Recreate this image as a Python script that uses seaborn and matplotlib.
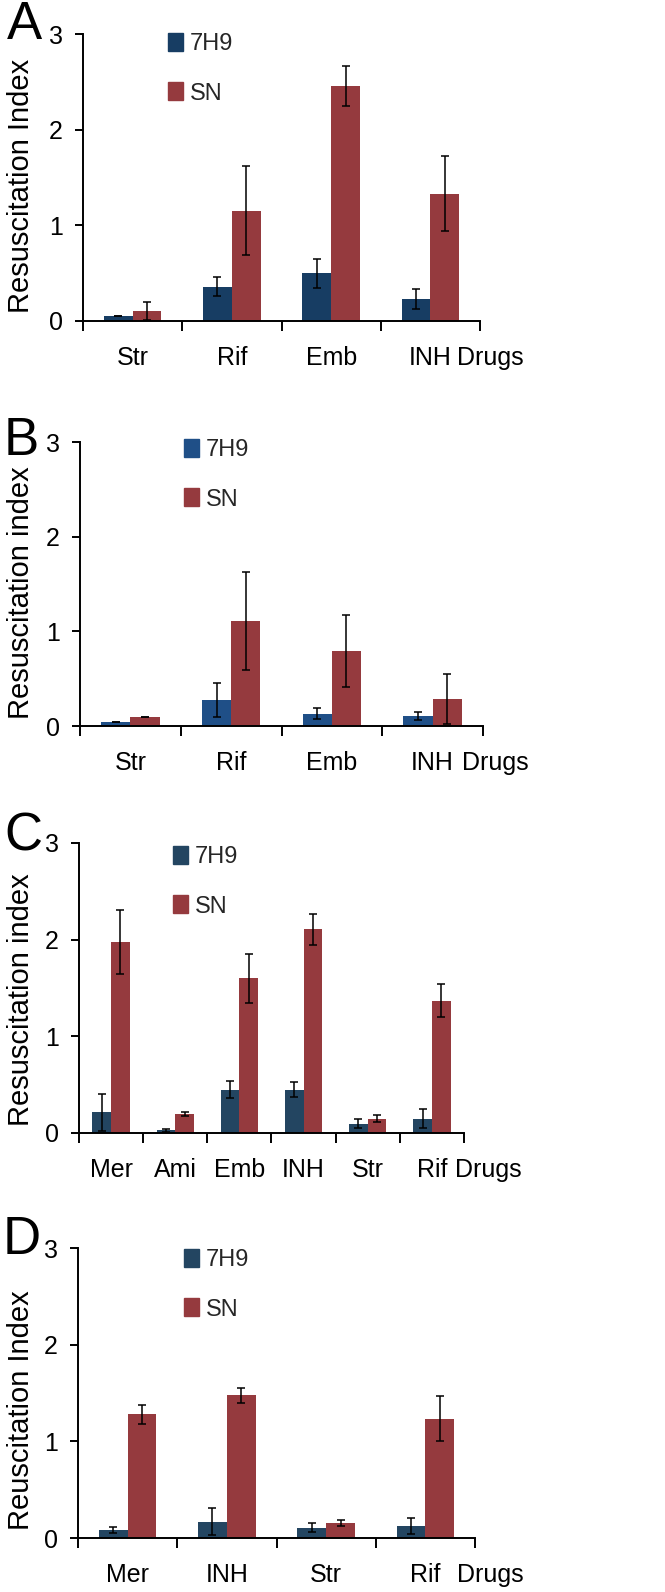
import numpy as np
import pandas as pd
import matplotlib
matplotlib.use("Agg")
import matplotlib.pyplot as plt
import matplotlib.patches as mpatches
import seaborn as sns

# ---------------- data ----------------
a_cats = ["Str", "Rif", "Emb", "INH"]
a_7h9 = [0.05, 0.36, 0.50, 0.23]
a_7h9_err = [0.0, 0.10, 0.15, 0.10]
a_sn = [0.105, 1.155, 2.455, 1.33]
a_sn_err = [0.095, 0.46, 0.21, 0.39]

b_cats = ["Str", "Rif", "Emb", "INH"]
b_7h9 = [0.045, 0.27, 0.13, 0.11]
b_7h9_err = [0.0, 0.18, 0.06, 0.042]
b_sn = [0.10, 1.11, 0.795, 0.285]
b_sn_err = [0.0, 0.52, 0.38, 0.26]

c_cats = ["Mer", "Ami", "Emb", "INH", "Str", "Rif"]
c_7h9 = [0.215, 0.028, 0.45, 0.45, 0.097, 0.15]
c_7h9_err = [0.19, 0.015, 0.09, 0.08, 0.05, 0.10]
c_sn = [1.98, 0.195, 1.60, 2.11, 0.15, 1.37]
c_sn_err = [0.33, 0.02, 0.25, 0.16, 0.035, 0.175]

d_cats = ["Mer", "INH", "Str", "Rif"]
d_7h9 = [0.086, 0.166, 0.107, 0.124]
d_7h9_err = [0.03, 0.14, 0.05, 0.085]
d_sn = [1.28, 1.476, 0.155, 1.234]
d_sn_err = [0.10, 0.075, 0.03, 0.23]

series = ["7H9", "SN"]
yticks = [0, 1, 2, 3]

sns.set_theme(style="white")
plt.rcParams["font.family"] = ["Liberation Sans", "DejaVu Sans"]

W, H = 665, 1592
fig = plt.figure(figsize=(W / 100, H / 100), dpi=100)

SN_COLOR = "#953a3e"

panels = [
    dict(letter="A", cats=a_cats, v1=a_7h9, e1=a_7h9_err, v2=a_sn, e2=a_sn_err,
         ylabel="Resuscitation Index", box=(83, 480, 34, 321), c1="#173d63",
         leg=(168, 38), drugs=457, letter_xy=(7, 0), ly=0.47),
    dict(letter="B", cats=b_cats, v1=b_7h9, e1=b_7h9_err, v2=b_sn, e2=b_sn_err,
         ylabel="Resuscitation index", box=(80, 483, 442, 726), c1="#1f4f87",
         leg=(184, 444), drugs=462, letter_xy=(4, 416), ly=0.47),
    dict(letter="C", cats=c_cats, v1=c_7h9, e1=c_7h9_err, v2=c_sn, e2=c_sn_err,
         ylabel="Resuscitation index", box=(79, 464, 843, 1133), c1="#234561",
         leg=(173, 851), drugs=455, letter_xy=(4, 811), ly=0.46),
    dict(letter="D", cats=d_cats, v1=d_7h9, e1=d_7h9_err, v2=d_sn, e2=d_sn_err,
         ylabel="Reuscitation Index", box=(78, 475, 1248, 1538), c1="#234561",
         leg=(184, 1254), drugs=457, letter_xy=(3, 1215), ly=0.44),
]

for p in panels:
    x0, x1, yt, yb = p["box"]
    ax = fig.add_axes([x0 / W, 1 - yb / H, (x1 - x0) / W, (yb - yt) / H])
    n = len(p["cats"])
    df = pd.DataFrame({
        "drug": p["cats"] * 2,
        "series": ["7H9"] * n + ["SN"] * n,
        "value": list(p["v1"]) + list(p["v2"]),
    })
    sns.barplot(data=df, x="drug", y="value", hue="series", order=p["cats"],
                hue_order=series, palette=[p["c1"], SN_COLOR], width=0.58,
                errorbar=None, legend=False, ax=ax, saturation=1, linewidth=0)
    errs = [p["e1"], p["e2"]]
    for cont, err in zip(ax.containers, errs):
        xs = [b.get_x() + b.get_width() / 2 for b in cont]
        hs = [b.get_height() for b in cont]
        ax.errorbar(xs, hs, yerr=err, fmt="none", ecolor="black",
                    elinewidth=1.1, capsize=3, capthick=1.1, zorder=5)
    ax.set_xlim(-0.5, n - 0.5)
    ax.set_ylim(0, 3)
    ax.set_yticks(yticks)
    ax.set_yticklabels([str(t) for t in yticks])
    ax.set_xticks(np.arange(n + 1) - 0.5)
    ax.set_xticklabels([""] * (n + 1))
    ax.set_xticks(np.arange(n), minor=True)
    ax.set_xticklabels(p["cats"], minor=True)
    ax.tick_params(axis="x", which="major", direction="out", length=7.5,
                   width=1.4, color="black", bottom=True)
    ax.tick_params(axis="x", which="minor", length=0, pad=18, labelsize=18,
                   labelcolor="black", bottom=True)
    ax.tick_params(axis="y", direction="out", length=5.5, width=1.4,
                   color="black", labelsize=18, labelcolor="black", pad=9, left=True)
    for s in ["top", "right"]:
        ax.spines[s].set_visible(False)
    for s in ["left", "bottom"]:
        ax.spines[s].set_color("black")
        ax.spines[s].set_linewidth(1.4)
    ax.set_xlabel("")
    ax.set_ylabel(p["ylabel"], fontsize=21, color="black")
    ax.yaxis.set_label_coords(-(x0 - 35) / (x1 - x0), p["ly"])
    ax.annotate("Drugs", xy=((p["drugs"] - x0) / (x1 - x0), 0),
                xycoords="axes fraction", xytext=(0, -18),
                textcoords="offset points", ha="left", va="top",
                fontsize=18, color="black")
    handles = [mpatches.Patch(color=p["c1"], label="7H9"),
               mpatches.Patch(color=SN_COLOR, label="SN")]
    lx, ly = p["leg"]
    ax.legend(handles=handles, loc="upper left",
              bbox_to_anchor=(lx / W, 1 - (ly - 5) / H),
              bbox_transform=fig.transFigure, frameon=False, fontsize=17,
              handlelength=0.62, handleheight=0.8, handletextpad=0.3,
              labelspacing=1.15, borderpad=0, borderaxespad=0)
    lxp, lyp = p["letter_xy"]
    fig.text(lxp / W, 1 - lyp / H, p["letter"], fontsize=38, ha="left",
             va="top", color="black")

fig.savefig("out.png", dpi=100)
